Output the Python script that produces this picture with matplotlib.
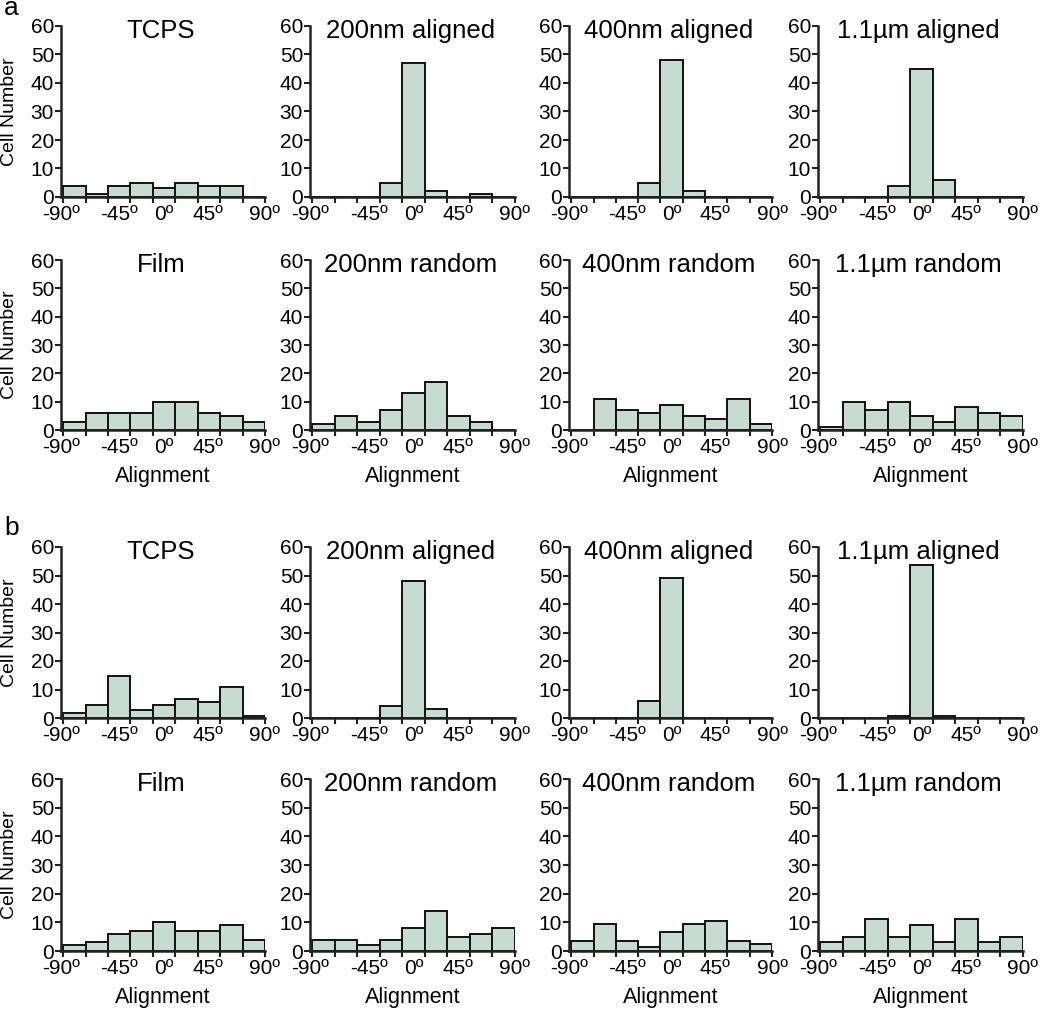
import numpy as np
import matplotlib
matplotlib.use("Agg")
import matplotlib.pyplot as plt

plt.rcParams["font.family"] = ["Liberation Sans", "DejaVu Sans"]

# bin edges in degrees (9 bins of 20 degrees)
edges = np.arange(-90, 91, 20)
tick_labels = ["-90º", "-45º", "0º", "45º", "90º"]

titles_aligned = ["TCPS", "200nm aligned", "400nm aligned", "1.1µm aligned"]
titles_random = ["Film", "200nm random", "400nm random", "1.1µm random"]

# panel a
a_tcps = [4, 1, 4, 5, 3, 5, 4, 4, 0]
a_200_aligned = [0, 0, 0, 5, 47, 2, 0, 1, 0]
a_400_aligned = [0, 0, 0, 5, 48, 2, 0, 0, 0]
a_1100_aligned = [0, 0, 0, 4, 45, 6, 0, 0, 0]
a_film = [3, 6, 6, 6, 10, 10, 6, 5, 3]
a_200_random = [2, 5, 3, 7, 13, 17, 5, 3, 0]
a_400_random = [0, 11, 7, 6, 9, 5, 4, 11, 2]
a_1100_random = [1, 10, 7, 10, 5, 3, 8, 6, 5]

# panel b
b_tcps = [1.7, 4.6, 14.8, 2.8, 4.6, 6.7, 5.7, 10.9, 0.6]
b_200_aligned = [0, 0, 0, 4.3, 48.2, 3.2, 0, 0, 0]
b_400_aligned = [0, 0, 0, 6, 49.1, 0, 0, 0, 0]
b_1100_aligned = [0, 0, 0, 0.8, 53.8, 0.8, 0, 0, 0]
b_film = [2, 3, 6, 7, 10, 7, 7, 9, 4]
b_200_random = [4, 4, 2, 4, 8, 14, 5, 6, 8]
b_400_random = [3.5, 9.3, 3.5, 1.4, 6.5, 9.3, 10.4, 3.5, 2.5]
b_1100_random = [3, 5, 11, 5, 9, 3, 11, 3, 5]

rows = [
    (titles_aligned, [a_tcps, a_200_aligned, a_400_aligned, a_1100_aligned], False),
    (titles_random, [a_film, a_200_random, a_400_random, a_1100_random], True),
    (titles_aligned, [b_tcps, b_200_aligned, b_400_aligned, b_1100_aligned], False),
    (titles_random, [b_film, b_200_random, b_400_random, b_1100_random], True),
]

W, H = 1050, 1013
fig = plt.figure(figsize=(W / 100, H / 100), dpi=100)

col_px = [(61, 265), (310, 515), (569, 772), (818, 1023)]
row_px = [(26, 197), (260, 430), (547, 718), (779, 951)]
label_pos = [-92, -40, 0, 39, 90]

bar_color = "#c6dcd0"

for r, (titles, series, show_xlabel) in enumerate(rows):
    top, bot = row_px[r]
    h = bot - top
    for c, (x0, x1) in enumerate(col_px):
        w = x1 - x0
        ax = fig.add_axes([x0 / W, 1 - bot / H, w / W, h / H])
        ax.bar(edges[:-1], series[c], width=20, align="edge",
               color=bar_color, edgecolor="#111111", linewidth=1.4, zorder=2)
        ax.set_xlim(-90, 90)
        ax.set_ylim(0, 60)
        ax.set_yticks(range(0, 61, 10))
        ax.xaxis.remove_overlapping_locs = False
        ax.set_xticks(edges)
        ax.set_xticklabels([])
        ax.set_xticks(label_pos, minor=True)
        ax.set_xticklabels(tick_labels, minor=True)
        ax.tick_params(axis="x", which="major", direction="out", length=4, width=1.5, color="#222222")
        ax.tick_params(axis="x", which="minor", length=0, pad=6, labelsize=15)
        ax.tick_params(axis="y", direction="out", length=4, width=1.5, color="#222222",
                       labelsize=15, pad=1)
        for s in ["top", "right"]:
            ax.spines[s].set_visible(False)
        for s in ["left", "bottom"]:
            ax.spines[s].set_linewidth(1.8)
            ax.spines[s].set_color("#222222")
            ax.spines[s].set_zorder(3)
        ax.text(0.49, 1 - 12 / h, titles[c], transform=ax.transAxes,
                fontsize=18.5, ha="center", va="baseline")
        if c == 0:
            ax.set_ylabel("Cell Number", fontsize=14)
            ax.yaxis.set_label_coords(-51 / w, 0.5)
            ax.yaxis.label.set_va("center")
        if show_xlabel:
            ax.set_xlabel("Alignment", fontsize=15.5)
            ax.xaxis.set_label_coords(0.5, -46 / h)
            ax.xaxis.label.set_va("center")

fig.text(4 / W, 1 - 15 / H, "a", fontsize=19, va="baseline", ha="left")
fig.text(4 / W, 1 - 535 / H, "b", fontsize=19, va="baseline", ha="left")

fig.savefig("out.png", dpi=100)
